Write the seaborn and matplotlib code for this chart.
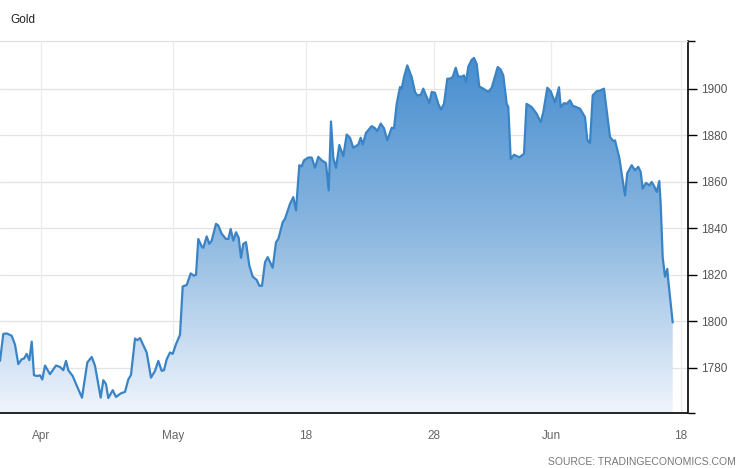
import numpy as np
import pandas as pd
import matplotlib
matplotlib.use("Agg")
import matplotlib.pyplot as plt
import seaborn as sns
from matplotlib.colors import LinearSegmentedColormap
from matplotlib.ticker import FixedLocator

# ---- data (position along the time axis, gold price) ----
pos = [0, 3.3, 6.7, 11.7, 15, 18.3, 21.7, 24, 26.7, 29.3, 31.7, 34, 37.3, 40, 42.3, 45, 50, 56, 60, 63.3,
       66, 68.3, 72.7, 77.3, 82, 87.3, 91.7, 95, 100.7, 103.3, 106, 108.3, 112.7, 116, 120.7, 125, 128.3, 131,
       135, 137.3, 140, 146.7, 151, 155, 158.3, 161.7, 164, 166.7, 170, 172.7, 176, 180, 182.7, 186.7, 190.7,
       194, 196, 198.3, 201.7, 203.3, 206.7, 209.3, 211.7, 216, 218.3, 221.7, 226, 228.3, 230.7, 233.3, 236,
       238.7, 241, 243.3, 246, 249.3, 252.7, 256.7, 259.3, 262, 265, 267.7, 272.7, 276, 278.3, 282.7, 285,
       290, 293.3, 296, 299.3, 301.7, 304, 308.3, 311.7, 315, 318.3, 321.7, 326, 328.7, 331, 333.3, 336,
       339.3, 343.3, 346.7, 350, 353.3, 358.3, 360.7, 362.7, 366, 371.7, 375, 377.3, 380.7, 384, 387.3, 391.7,
       394, 396.7, 400, 401.7, 404, 407.3, 411.7, 415, 417.3, 420.7, 423.3, 426.7, 429.3, 431.7, 435, 438.3,
       441, 444, 447.3, 450, 452.7, 455.7, 458.3, 461.7, 464, 466, 468.3, 471.7, 474, 476.7, 479.3, 483.3,
       488.3, 491.7, 494.3, 497.7, 500.7, 503.3, 506.7, 508.3, 510.7, 514, 519.3, 524, 526.5, 531.7, 536.7,
       540.7, 543.3, 547.3, 550.7, 555, 559, 560.7, 564, 566.7, 570, 572.7, 576, 580, 585, 587.3, 590, 592.7,
       596.7, 600, 604, 606.7, 610, 613.3, 615, 619.3, 621.7, 625, 627.3, 631.7, 635, 638.3, 640.7, 642.7,
       646, 649.3, 651.7, 654.3, 656.7, 659.3, 660.7, 662.7, 665, 667.3, 668.3, 672.7]
price = [1783, 1794.6, 1794.8, 1793.8, 1790, 1781.6, 1783.7, 1784, 1786, 1783.3, 1791.3, 1776.8, 1776.5,
         1776.8, 1775, 1781, 1777.3, 1781, 1780.4, 1779, 1783, 1779, 1776.5, 1771.8, 1767.2, 1782.3, 1784.7,
         1780.9, 1767.2, 1774.7, 1773, 1767, 1770.4, 1767.5, 1769, 1769.7, 1775, 1777, 1792.6, 1791.9, 1792.8,
         1786.6, 1775.8, 1778.7, 1783, 1778.7, 1779, 1783.7, 1786.6, 1786, 1790.2, 1794.2, 1815, 1815.6,
         1820.6, 1819.6, 1820, 1835.4, 1832.2, 1831.6, 1836.5, 1833.3, 1834.7, 1841.9, 1841.2, 1837.6, 1835.4,
         1835.4, 1839.7, 1834.7, 1838.3, 1835.9, 1827.3, 1833.3, 1834, 1824, 1819.2, 1817.8, 1815.3, 1815.3,
         1825.4, 1827.6, 1823, 1834, 1835.4, 1842.6, 1844.1, 1850.5, 1853.4, 1847.7, 1867.1, 1866.6, 1869.2,
         1870.4, 1870.4, 1866, 1870.7, 1869.2, 1868, 1856.3, 1885.9, 1870.3, 1866, 1875.8, 1871, 1880.3,
         1878.9, 1874.6, 1876, 1878.9, 1876, 1881, 1883.9, 1883, 1881.8, 1885, 1883, 1877.8, 1883.2, 1883,
         1893.5, 1900.7, 1900, 1905, 1910, 1905, 1898.6, 1897.1, 1897.4, 1900, 1896.4, 1893.8, 1898.6, 1898.2,
         1893.5, 1891, 1893.5, 1904.3, 1904.3, 1905, 1909, 1905.2, 1905.2, 1905.7, 1902.8, 1909.5, 1912.4,
         1913.2, 1910.6, 1900.9, 1900, 1898.6, 1900.4, 1904.3, 1909.3, 1908.2, 1905.7, 1893.5, 1892.1, 1869.8,
         1871.6, 1870.5, 1872, 1893.5, 1892.1, 1889.2, 1885.6, 1889.9, 1900.4, 1898.9, 1894.1, 1900.6, 1892.1,
         1893.8, 1893.5, 1895, 1892.7, 1892.1, 1891.4, 1887.8, 1878, 1876.6, 1897.1, 1898.9, 1899.2, 1900,
         1890.7, 1879.2, 1877.5, 1877.8, 1870.3, 1863.5, 1854.1, 1863.7, 1867.1, 1864.9, 1866.4, 1864.2, 1857,
         1859.5, 1858.4, 1859.9, 1858, 1855.6, 1860.3, 1850.5, 1827.5, 1819.2, 1822.5, 1817.5, 1799.5]

xtick_pos = [41, 173, 306, 434, 551, 681]
xtick_labels = ["Apr", "May", "18", "28", "Jun", "18"]
ytick_vals = [1780, 1800, 1820, 1840, 1860, 1880, 1900]

df = pd.DataFrame({"pos": pos, "price": price})

sns.set_style("white")
plt.rcParams["font.family"] = ["Liberation Sans", "DejaVu Sans"]

W, H = 746, 468
fig = plt.figure(figsize=(W / 100, H / 100), dpi=100)
ax = fig.add_axes([0, (H - 413) / H, 687.5 / W, (413 - 40.5) / H])

ymin, ymax = 1760.6, 1920.7
xmax = 687.5

# gradient area fill
poly = ax.fill_between(df["pos"], df["price"], ymin, color="none", lw=0)
cmap = LinearSegmentedColormap.from_list("g", [(0.94, 0.96, 0.99), (0.55, 0.72, 0.88), (0.27, 0.55, 0.81)])
grad = np.linspace(0, 1, 256).reshape(-1, 1)
img = ax.imshow(grad, extent=[0, max(pos), ymin, 1915], aspect="auto", origin="lower",
                cmap=cmap, zorder=1, interpolation="bilinear")
img.set_clip_path(poly.get_paths()[0], transform=ax.transData)

sns.lineplot(data=df, x="pos", y="price", ax=ax, color="#3a84c6", lw=1.6, zorder=3, sort=False)

ax.set_xlim(0, xmax)
ax.set_ylim(ymin, ymax)

# grid
for v in ytick_vals:
    ax.axhline(v, color="#e3e3e3", lw=0.9, zorder=0.5)
for p in xtick_pos:
    ax.axvline(p, color="#ececec", lw=0.9, zorder=0.5)

ax.set_xticks(xtick_pos)
ax.set_xticklabels(xtick_labels)
ax.yaxis.tick_right()
ax.set_yticks(ytick_vals)
ax.set_yticklabels([str(v) for v in ytick_vals])
ax.yaxis.set_minor_locator(FixedLocator([ymin, ymax]))
ax.tick_params(axis="y", which="major", direction="out", length=6.5, width=1, color="black",
               labelsize=8.5, labelcolor="#555555", pad=3)
ax.tick_params(axis="y", which="minor", direction="out", length=5, width=1, color="black")
ax.tick_params(axis="x", length=0, labelsize=8.5, labelcolor="#666666", pad=12)
ax.set_xlabel("")
ax.set_ylabel("")

ax.spines["left"].set_visible(False)
ax.spines["top"].set_color("#e0e0e0")
ax.spines["top"].set_linewidth(0.9)
ax.spines["bottom"].set_color("black")
ax.spines["bottom"].set_linewidth(1.2)
ax.spines["right"].set_color("black")
ax.spines["right"].set_linewidth(1.2)

fig.text(10 / W, 1 - 20 / H, "Gold", fontsize=8.5, color="#222222", va="center", ha="left")
fig.text(736 / W, 1 - 462 / H, "SOURCE: TRADINGECONOMICS.COM", fontsize=7.5, color="#777777",
         va="center", ha="right")

fig.savefig("out.png", dpi=100)
